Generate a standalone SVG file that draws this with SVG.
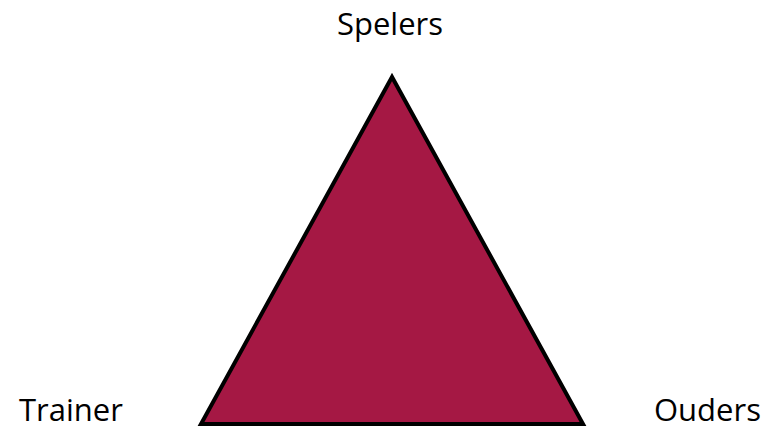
<svg xmlns="http://www.w3.org/2000/svg" width="766" height="431" viewBox="0 0 766 431">
<style>
.lbl{font-family:"Open Sans","Liberation Sans",sans-serif;font-size:31px;fill:#000}
</style>
<rect width="766" height="431" fill="#fff"/>
<g id="triangle">
<polygon points="392,77 201,424 583,424" fill="#A51844" stroke="#000" stroke-width="4" stroke-linejoin="miter"/>
</g>
<g id="spelers"><text class="lbl" x="390" y="35" text-anchor="middle">Spelers</text></g>
<g id="trainer"><text class="lbl" x="19" y="421">Trainer</text></g>
<g id="ouders"><text class="lbl" x="654" y="421">Ouders</text></g>
<g id="connectors"/>
</svg>
